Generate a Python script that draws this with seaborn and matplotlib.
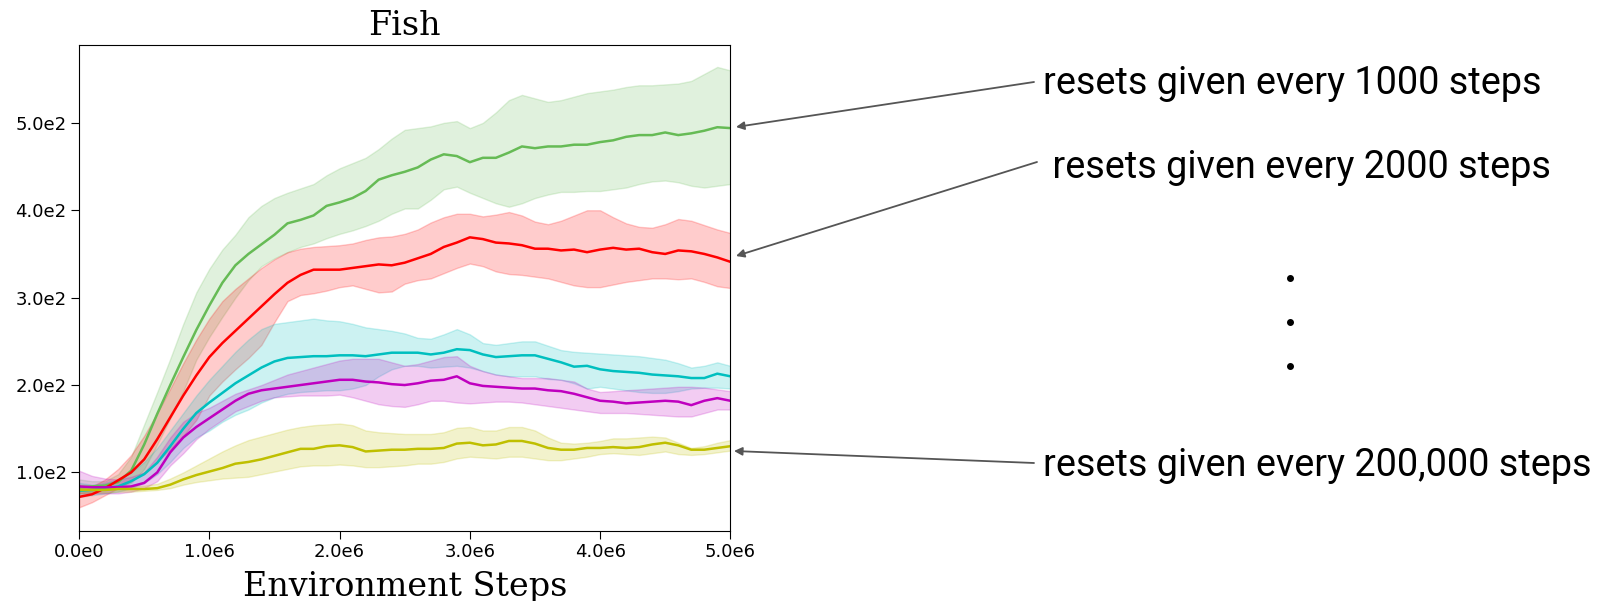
"""Fish: return vs environment steps for different reset frequencies."""
import numpy as np
import pandas as pd
import matplotlib
matplotlib.use("Agg")
import matplotlib.pyplot as plt
import seaborn as sns
from matplotlib.lines import Line2D
from matplotlib.ticker import FuncFormatter

# environment steps, in millions
STEPS_M = [0.0, 0.1, 0.2, 0.3, 0.4, 0.5, 0.6, 0.7, 0.8, 0.9,
           1.0, 1.1, 1.2, 1.3, 1.4, 1.5, 1.6, 1.7, 1.8, 1.9,
           2.0, 2.1, 2.2, 2.3, 2.4, 2.5, 2.6, 2.7, 2.8, 2.9,
           3.0, 3.1, 3.2, 3.3, 3.4, 3.5, 3.6, 3.7, 3.8, 3.9,
           4.0, 4.1, 4.2, 4.3, 4.4, 4.5, 4.6, 4.7, 4.8, 4.9, 5.0]

RUNS = ["1000", "2000", "r3", "r4", "200000"]
COLORS = ["#66bb55", "#ff0000", "#00bfbf", "#bf00bf", "#bfbf00"]

green_mean = [83, 84, 85, 89, 102, 132, 167, 200, 232, 263,
              291, 317, 337, 350, 361, 372, 385, 389, 394, 405,
              409, 414, 422, 435, 440, 444, 449, 458, 464, 462,
              455, 460, 460, 466, 473, 471, 473, 473, 475, 475,
              478, 480, 484, 486, 486, 489, 486, 488, 491, 495, 494]
green_lo = [76, 78, 80, 82, 88, 104, 132, 162, 193, 229,
            255, 278, 300, 320, 336, 345, 352, 358, 362, 368,
            373, 377, 382, 388, 396, 402, 402, 412, 424, 427,
            420, 414, 408, 404, 408, 414, 418, 421, 421, 422,
            422, 424, 426, 430, 433, 434, 432, 428, 426, 428, 430]
green_hi = [92, 90, 90, 98, 118, 155, 192, 230, 270, 306,
            333, 355, 372, 392, 405, 414, 420, 425, 430, 440,
            448, 454, 460, 470, 482, 492, 494, 496, 500, 502,
            494, 500, 512, 526, 532, 528, 524, 526, 530, 534,
            536, 538, 541, 543, 543, 544, 545, 548, 556, 564, 560]

red_mean = [72, 75, 82, 91, 100, 115, 138, 163, 188, 211,
            232, 248, 262, 276, 290, 304, 317, 326, 332, 332,
            332, 334, 336, 338, 337, 340, 345, 350, 358, 363,
            369, 367, 363, 362, 360, 356, 356, 354, 355, 352,
            355, 357, 355, 356, 352, 350, 354, 353, 350, 346, 341]
red_lo = [60, 66, 74, 82, 90, 100, 112, 127, 142, 160,
          188, 204, 218, 231, 246, 272, 296, 303, 305, 308,
          312, 314, 310, 306, 307, 316, 320, 322, 328, 334,
          339, 336, 330, 327, 326, 324, 322, 318, 314, 312,
          312, 315, 318, 320, 322, 322, 321, 322, 318, 313, 311]
red_hi = [82, 84, 92, 104, 120, 142, 168, 196, 225, 252,
          276, 296, 310, 322, 334, 344, 352, 356, 358, 359,
          360, 362, 366, 369, 370, 373, 378, 386, 392, 396,
          396, 393, 395, 398, 394, 387, 384, 388, 394, 400,
          400, 392, 385, 381, 380, 384, 390, 388, 383, 378, 374]

cyan_mean = [79, 80, 82, 84, 90, 98, 111, 130, 150, 168,
             180, 191, 202, 211, 220, 227, 231, 232, 233, 233,
             234, 234, 233, 235, 237, 237, 237, 235, 237, 241,
             240, 235, 232, 233, 234, 234, 230, 226, 221, 222,
             218, 216, 215, 214, 212, 211, 210, 208, 208, 213, 210]
cyan_lo = [72, 74, 76, 78, 82, 88, 98, 112, 128, 140,
           148, 158, 166, 172, 180, 186, 190, 192, 193, 194,
           194, 196, 200, 210, 218, 222, 222, 220, 221, 222,
           220, 216, 212, 210, 210, 210, 207, 206, 202, 196,
           198, 196, 194, 192, 191, 191, 193, 196, 197, 197, 196]
cyan_hi = [88, 86, 88, 92, 100, 112, 128, 148, 168, 188,
           206, 222, 238, 252, 264, 270, 272, 274, 276, 274,
           273, 270, 266, 264, 262, 259, 254, 253, 258, 264,
           258, 248, 246, 248, 250, 250, 245, 240, 238, 237,
           236, 235, 234, 233, 231, 229, 225, 220, 222, 226, 222]

mag_mean = [84, 83, 83, 83, 84, 88, 100, 123, 140, 152,
            162, 172, 182, 190, 194, 196, 198, 200, 202, 204,
            206, 206, 204, 203, 201, 200, 202, 205, 206, 210,
            202, 199, 198, 197, 196, 196, 194, 193, 190, 186,
            182, 181, 179, 180, 181, 182, 181, 177, 182, 185, 182]
mag_lo = [76, 76, 76, 76, 78, 82, 90, 108, 122, 138,
          150, 160, 170, 176, 182, 186, 187, 188, 188, 188,
          189, 186, 182, 178, 176, 175, 178, 182, 182, 180,
          179, 180, 181, 181, 180, 178, 176, 174, 172, 170,
          168, 168, 168, 167, 166, 165, 164, 164, 168, 172, 172]
mag_hi = [102, 96, 93, 92, 95, 100, 118, 140, 158, 168,
          174, 182, 190, 195, 200, 206, 212, 216, 220, 224,
          228, 230, 230, 230, 226, 222, 224, 228, 232, 233,
          222, 216, 212, 210, 208, 208, 208, 206, 204, 196,
          192, 193, 194, 195, 196, 197, 198, 198, 197, 195, 193]

yel_mean = [80, 80, 80, 81, 81, 81, 82, 86, 92, 97,
            101, 105, 110, 112, 115, 119, 123, 127, 127, 130,
            131, 129, 124, 125, 126, 126, 127, 127, 128, 133,
            134, 131, 132, 136, 136, 133, 128, 126, 126, 128,
            128, 129, 128, 129, 132, 134, 131, 126, 126, 128, 130]
yel_lo = [76, 77, 77, 78, 78, 79, 80, 82, 86, 89,
          91, 93, 94, 95, 98, 101, 104, 107, 108, 108,
          109, 108, 106, 106, 107, 108, 110, 110, 112, 116,
          118, 117, 116, 118, 118, 116, 114, 114, 116, 118,
          121, 122, 121, 120, 122, 124, 121, 120, 121, 123, 125]
yel_hi = [86, 85, 84, 84, 84, 85, 87, 93, 100, 108,
          116, 124, 131, 137, 141, 145, 149, 152, 154, 155,
          156, 154, 148, 146, 145, 144, 144, 144, 146, 151,
          152, 148, 148, 152, 152, 148, 140, 134, 133, 134,
          136, 139, 139, 140, 141, 140, 134, 128, 130, 134, 137]

MEANS = [green_mean, red_mean, cyan_mean, mag_mean, yel_mean]
LOWS = [green_lo, red_lo, cyan_lo, mag_lo, yel_lo]
HIGHS = [green_hi, red_hi, cyan_hi, mag_hi, yel_hi]

ANNOTATIONS = ["resets given every 1000 steps",
               " resets given every 2000 steps",
               "resets given every 200,000 steps"]


def sci_fmt(v, pos):
    if v == 0:
        return "0.0e0"
    exp = int(np.floor(np.log10(abs(v))))
    return f"{v / 10 ** exp:.1f}e{exp}"


def main():
    steps = np.array(STEPS_M) * 1e6
    frames = []
    for run, mean in zip(RUNS, MEANS):
        frames.append(pd.DataFrame({"step": steps, "ret": mean, "run": run}))
    df = pd.concat(frames, ignore_index=True)

    fig = plt.figure(figsize=(16.14, 6.01), dpi=100)
    ax = fig.add_axes([0.049, 0.1165, 0.4035, 0.8085])

    for color, lo, hi in zip(COLORS, LOWS, HIGHS):
        ax.fill_between(steps, lo, hi, color=color, alpha=0.2, linewidth=1)
    sns.lineplot(data=df, x="step", y="ret", hue="run", hue_order=RUNS,
                 palette=COLORS, linewidth=1.8, legend=False, ax=ax)

    ax.set_xlim(0, 5e6)
    ax.set_ylim(33, 589)
    ax.set_xticks([0, 1e6, 2e6, 3e6, 4e6, 5e6])
    ax.set_yticks([100, 200, 300, 400, 500])
    ax.xaxis.set_major_formatter(FuncFormatter(sci_fmt))
    ax.yaxis.set_major_formatter(FuncFormatter(sci_fmt))
    ax.tick_params(labelsize=13, length=5.5, pad=3.5)
    ax.set_ylabel("")
    ax.set_xlabel("Environment Steps", family="DejaVu Serif", fontsize=24,
                  labelpad=7)
    ax.set_title("Fish", family="DejaVu Serif", fontsize=24, pad=7)

    # right-hand annotations
    W, H = 1614, 601
    txt = dict(family=["Roboto", "DejaVu Sans"], fontsize=27.3, va="center",
               ha="left", color="black")
    arrow = dict(arrowstyle="-|>", color="#555555", lw=1.3,
                 mutation_scale=12, shrinkA=0, shrinkB=0)
    items = [(ANNOTATIONS[0], (1034, 82), (1043, 84), (736, 127)),
             (ANNOTATIONS[1], (1037, 162), (1043, 167), (736, 256)),
             (ANNOTATIONS[2], (1034, 463), (1043, 465), (734, 451))]
    for label, start, tpos, end in items:
        fig.text(tpos[0] / W, 1 - tpos[1] / H, label, **txt)
        ax.annotate("", xy=(end[0] / W, 1 - end[1] / H),
                    xytext=(start[0] / W, 1 - start[1] / H),
                    xycoords="figure fraction", textcoords="figure fraction",
                    arrowprops=arrow, annotation_clip=False)
    for y in (278, 322, 366):
        fig.add_artist(Line2D([1290 / W], [1 - y / H], marker="o",
                              markersize=4, color="black",
                              transform=fig.transFigure))

    fig.savefig("out.png", dpi=100)
    plt.close(fig)


if __name__ == "__main__":
    main()
